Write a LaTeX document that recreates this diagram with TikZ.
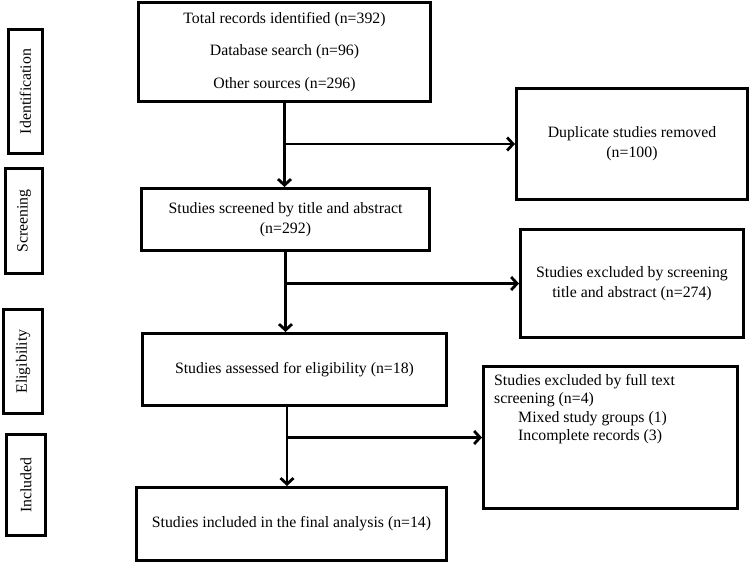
\documentclass[tikz,border=0pt]{standalone}
\usepackage{fontspec}
\setmainfont{Liberation Serif}
\usetikzlibrary{positioning, arrows.meta}

\tikzset{
    box/.style={draw, line width=2.8pt, inner sep=0pt, align=center,
        font=\fontsize{15.8}{20}\selectfont},
    stage/.style={draw, line width=2.8pt, inner sep=0pt, rotate=90,
        font=\fontsize{15.8}{20}\selectfont},
    flow/.style={line width=2.8pt, -{Straight Barb[length=6pt, width=13pt]}},
}

\begin{document}
\begin{tikzpicture}[x=1pt, y=1pt]
                \useasboundingbox (0,0) rectangle (750,-564);

                % stages on the left
                \node[stage, minimum width=124.2, minimum height=34.2] (iden) at (25.5,-91.5) {Identification};
                \node[stage, minimum width=105.2, minimum height=37.2] (scrn) at (24,-221) {Screening};
                \node[stage, minimum width=104.2, minimum height=39.2] (elig) at (23,-361.5) {Eligibility};
                \node[stage, minimum width=101.2, minimum height=39.2] (incl) at (26,-485) {Included};

                % main column
                \node[box, minimum width=292.2, minimum height=99.2] (rec) at (284.5,-52)
                    {Total records identified (n=392)\\[12.5pt]Database search (n=96)\\[12.5pt]Other sources (n=296)};
                \node[box, minimum width=288.2, minimum height=62.2] (scr) at (285.5,-219.5)
                    {Studies screened by title and abstract\\(n=292)};
                \node[box, minimum width=304.2, minimum height=72.2] (ass) at (294.5,-369.5)
                    {Studies assessed for eligibility (n=18)};
                \node[box, minimum width=310.2, minimum height=73.2] (fin) at (291.5,-524)
                    {Studies included in the final analysis (n=14)};

                % exclusions on the right
                \node[box, minimum width=231.2, minimum height=111.2] (dup) at (632,-144)
                    {Duplicate studies removed\\(n=100)};
                \node[box, minimum width=223.2, minimum height=108.2] (exscr) at (632,-283.5)
                    {Studies excluded by screening\\title and abstract (n=274)};
                \node[box, minimum width=254.2, minimum height=142.2] (exfull) at (610.5,-437.5) {};
                \node[anchor=north west, inner sep=0pt, align=left,
                    font=\fontsize{15.8}{18.5}\selectfont] (exfulltxt) at (494,-374)
                    {Studies excluded by full text\\screening (n=4)\\
                     \hspace*{24pt}Mixed study groups (1)\\
                     \hspace*{24pt}Incomplete records (3)};

                % arrows
                \coordinate (spine) at (287,0);
                \draw[flow] (rec.south) -- (scr.north -| rec.south);
                \draw[flow] (scr.south) -- (ass.north -| scr.south);
                \draw[flow] (ass.south -| spine) -- (fin.north -| spine);
                \draw[flow] (rec.south |- dup.west) -- (dup.west);
                \draw[flow] (scr.south |- exscr.west) -- (exscr.west);
                \draw[flow] (spine |- exfull.west) -- (exfull.west);

            \end{tikzpicture}
\end{document}
